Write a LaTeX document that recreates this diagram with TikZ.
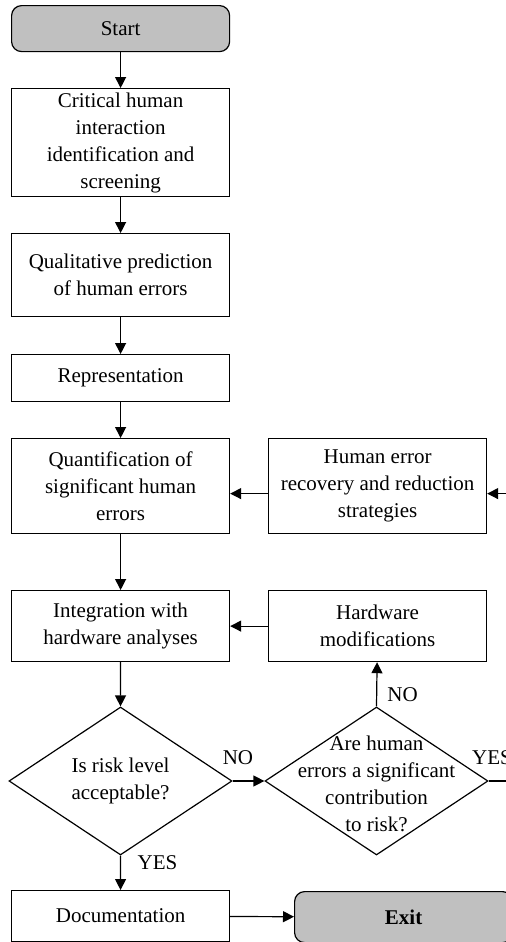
\documentclass[tikz,border=0pt]{standalone}
\usepackage{fontspec}
\setmainfont{Liberation Serif}
\usetikzlibrary{arrows.meta,shapes.geometric}

\definecolor{termgray}{HTML}{C0C0C0}

\tikzset{
  every node/.style={font=\fontsize{21bp}{27bp}\selectfont},
  box/.style={draw, line width=1.2bp, align=center, inner sep=0pt,
              anchor=north west, minimum width=218bp},
  term/.style={box, fill=termgray, rounded corners=10bp},
  decision/.style={draw, line width=1.2bp, diamond, inner sep=0pt,
                   minimum width=223bp, minimum height=148bp},
  dtext/.style={align=center, inner sep=0pt},
  flow/.style={line width=1.2bp, -{Triangle[length=11bp,width=11bp]}},
  plain/.style={line width=1.2bp},
  lbl/.style={inner sep=0pt}
}

\begin{document}
\begin{tikzpicture}[x=1bp, y=-1bp]
  \clip (0,0) rectangle (506,942);

  % left column
  \node[term, minimum height=46bp] (start) at (11,5) {Start};
  \node[box, minimum height=108bp] (screen) at (11,88)
    {Critical human\\interaction\\identification and\\screening};
  \node[box, minimum height=83bp] (qual) at (11,233)
    {Qualitative prediction\\of human errors};
  \node[box, minimum height=47bp] (repr) at (11,354) {Representation};
  \node[box, minimum height=95bp] (quant) at (11,438)
    {Quantification of\\significant human\\errors};
  \node[box, minimum height=71bp] (integ) at (11,590)
    {Integration with\\hardware analyses};
  \node[decision] (risk) at (120.5,781) {};
  \node[dtext] at (risk.center) {Is risk level\\acceptable?};
  \node[box, minimum height=51bp] (doc) at (11,890) {Documentation};

  % right column
  \node[box, minimum height=95bp] (recov) at (268,438)
    {Human error\\recovery and reduction\\strategies};
  \node[box, minimum height=71bp] (hwmod) at (268,590)
    {Hardware\\modifications};
  \node[decision] (contrib) at (376.5,781) {};
  \node[dtext] at ([yshift=-3bp]contrib.center)
    {Are human\\errors a significant\\contribution\\to risk?};
  \node[term, minimum height=51bp] (exit) at (294,891) {\textbf{Exit}};

  % main sequence
  \draw[flow] (start) -- (screen);
  \draw[flow] (screen) -- (qual);
  \draw[flow] (qual) -- (repr);
  \draw[flow] (repr) -- (quant);
  \draw[flow] (quant) -- (integ);
  \draw[flow] (integ) -- (risk.north);
  \draw[flow] (risk.south) -- (doc);
  \draw[flow] (doc) -- (exit);

  % feedback paths
  \draw[flow] (risk.east) -- (contrib.west);
  \draw[flow] (contrib.north) -- (hwmod);
  \draw[flow] (hwmod) -- (integ);
  \draw[flow] ([yshift=-7.5bp]recov.west) -- ([yshift=-7.5bp]quant.east);
  \coordinate (loopdown) at (535,781);
  \draw[flow] (contrib.east) -- (loopdown) |- ([yshift=-7.5bp]recov.east);

  % branch labels
  \node[lbl] at (238,758) {NO};
  \node[lbl] at (157.5,863) {YES};
  \node[lbl] at (402.5,695) {NO};
  \node[lbl, anchor=west] at (472,758) {YES};
\end{tikzpicture}
\end{document}
